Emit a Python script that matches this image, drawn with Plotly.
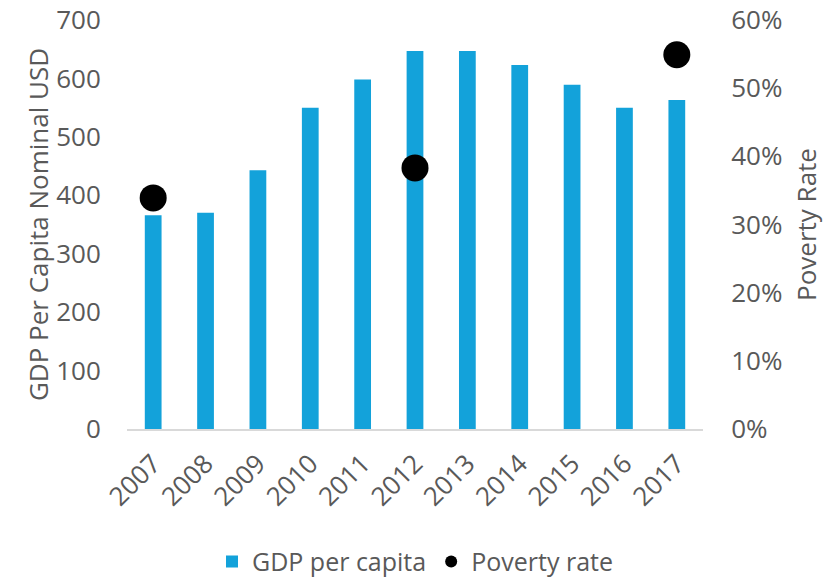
import plotly.graph_objects as go

years = ["2007", "2008", "2009", "2010", "2011", "2012", "2013", "2014", "2015", "2016", "2017"]
gdp_per_capita = [366, 370, 443, 550, 598, 647, 647, 623, 589, 550, 563]
poverty_years = ["2007", "2012", "2017"]
poverty_rate = [0.339, 0.383, 0.549]

FONT = "Open Sans"
TXT = "#595959"
FS = 26

fig = go.Figure()
fig.add_trace(go.Bar(x=years, y=gdp_per_capita, name="GDP per capita",
                     marker=dict(color="#13A2DA", line=dict(width=0)), yaxis="y"))
fig.add_trace(go.Scatter(x=poverty_years, y=poverty_rate, name="Poverty rate", mode="markers",
                         marker=dict(color="black", size=27), yaxis="y2"))

fig.update_layout(
    width=838, height=578,
    margin=dict(l=127, r=135, t=20, b=149, autoexpand=False),
    paper_bgcolor="white", plot_bgcolor="white",
    font=dict(family=FONT, color=TXT, size=FS),
    bargap=0.68,
    showlegend=True,
    legend=dict(orientation="h", x=0.5, xanchor="center", yref="container", y=0.068, yanchor="top",
                font=dict(size=25, color=TXT), itemsizing="constant"),
    xaxis=dict(type="category", range=[-0.5, len(years) - 0.5], tickangle=-45,
               showline=True, linecolor="#D9D9D9", linewidth=2,
               showgrid=False, ticks="outside", ticklen=7, tickcolor="rgba(0,0,0,0)",
               automargin=False, tickfont=dict(size=FS, color=TXT)),
    yaxis=dict(range=[0, 700], dtick=100, showgrid=False, zeroline=False, showline=False,
               ticks="outside", ticklen=20, tickcolor="rgba(0,0,0,0)", automargin=False,
               title=dict(text="GDP Per Capita Nominal USD", font=dict(size=FS, color=TXT), standoff=0),
               tickfont=dict(size=FS, color=TXT)),
    yaxis2=dict(range=[0, 0.6], dtick=0.1, tickformat=".0%", overlaying="y", side="right",
                showgrid=False, zeroline=False, showline=False, automargin=False,
                ticks="outside", ticklen=22, tickcolor="rgba(0,0,0,0)",
                title=dict(text="Poverty Rate", font=dict(size=FS, color=TXT), standoff=16),
                tickfont=dict(size=FS, color=TXT)),
)

fig.write_html("out.html")
